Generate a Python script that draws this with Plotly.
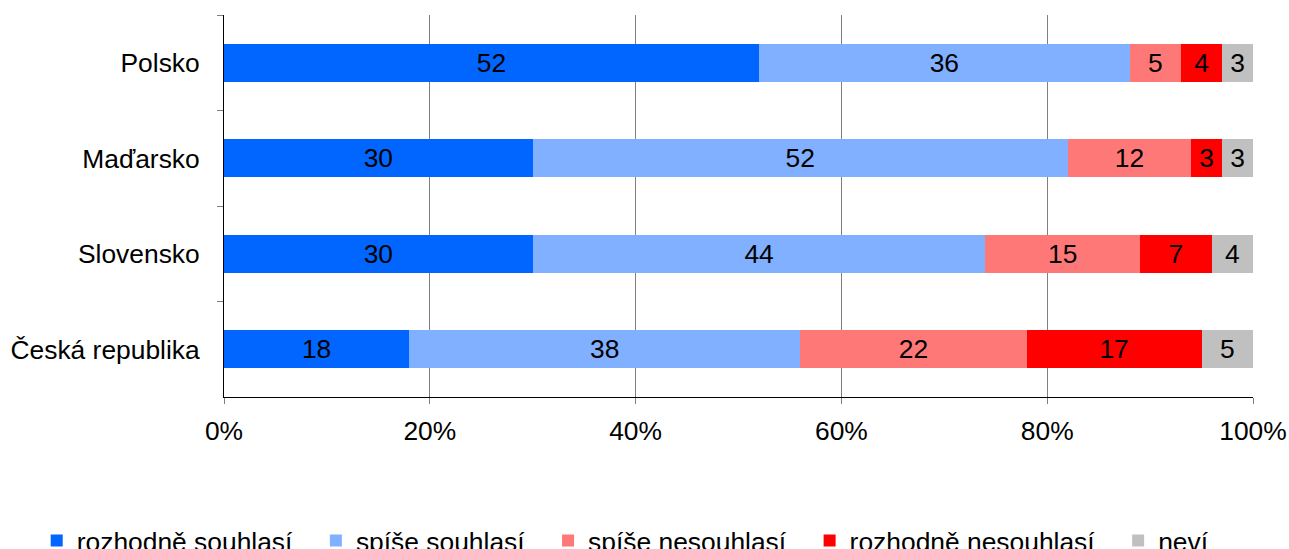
import plotly.graph_objects as go

countries = ["Polsko", "Maďarsko", "Slovensko", "Česká republika"]
series_names = ["rozhodně souhlasí", "spíše souhlasí", "spíše nesouhlasí", "rozhodně nesouhlasí", "neví"]
rozhodne_souhlasi = [52, 30, 30, 18]
spise_souhlasi = [36, 52, 44, 38]
spise_nesouhlasi = [5, 12, 15, 22]
rozhodne_nesouhlasi = [4, 3, 7, 17]
nevi = [3, 3, 4, 5]
x_ticks = [0, 20, 40, 60, 80, 100]
x_tick_labels = ["0%", "20%", "40%", "60%", "80%", "100%"]

colors = ["#0066FF", "#80B0FF", "#FF7878", "#FF0000", "#C0C0C0"]
series = [rozhodne_souhlasi, spise_souhlasi, spise_nesouhlasi, rozhodne_nesouhlasi, nevi]

FONT = "Liberation Sans, Arial, sans-serif"
FS = 26.4
PAD = "\u2002\u2009"  # invisible trailing spacing between legend entries

fig = go.Figure()
for i, (name, vals, col) in enumerate(zip(series_names, series, colors)):
    fig.add_trace(go.Bar(
        y=countries, x=vals, name=name + (PAD if i < len(series_names) - 1 else ""),
        orientation="h",
        marker=dict(color=col, line=dict(width=0)),
        text=vals, textposition="inside", insidetextanchor="middle",
        textangle=0, constraintext="none",
        textfont=dict(color="black", size=FS, family=FONT),
        hoverinfo="skip",
    ))

fig.update_layout(
    barmode="stack", bargap=0.6,
    width=1289, height=549,
    margin=dict(l=224, r=36, t=15, b=152, autoexpand=False),
    paper_bgcolor="white", plot_bgcolor="white",
    font=dict(family=FONT, size=FS, color="black"),
    showlegend=True,
    legend=dict(orientation="h",
                x=-0.182, xanchor="left", y=-0.314, yanchor="top",
                font=dict(size=FS, family=FONT, color="black"),
                itemwidth=30, traceorder="normal"),
    xaxis=dict(range=[0, 100], tickvals=x_ticks, ticktext=x_tick_labels,
               showgrid=True, gridcolor="#808080", gridwidth=1,
               showline=True, linecolor="black", linewidth=1,
               ticks="outside", ticklen=6, tickcolor="#808080",
               ticklabelstandoff=4,
               tickfont=dict(size=FS, family=FONT, color="black"),
               zeroline=False, fixedrange=True),
    yaxis=dict(categoryorder="array", categoryarray=countries, autorange="reversed",
               showline=True, linecolor="black", linewidth=1,
               ticks="outside", ticklen=6, tickcolor="#808080", tickson="boundaries",
               ticklabelstandoff=18,
               tickfont=dict(size=FS, family=FONT, color="black"),
               showgrid=False, fixedrange=True),
)

fig.write_html("out.html", config={"displayModeBar": False},
               post_script="document.body.style.margin='0';document.body.style.overflow='hidden';")
